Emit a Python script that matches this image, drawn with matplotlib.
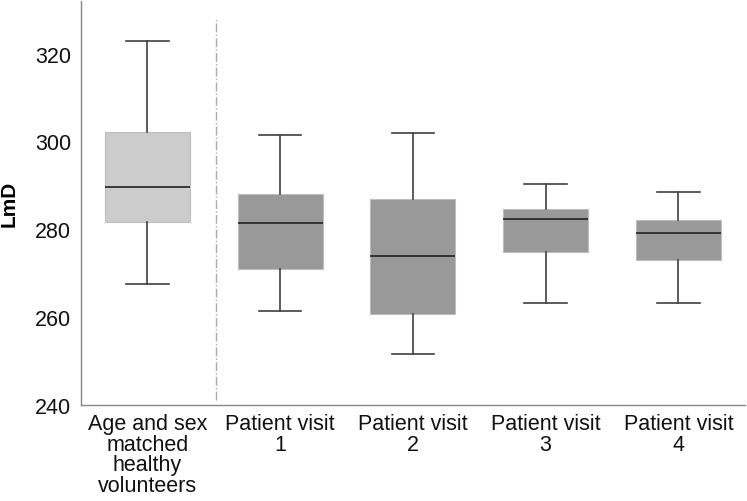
import matplotlib
matplotlib.use('Agg')
import matplotlib.pyplot as plt

# Daten
labels = ['Age and sex\nmatched\nhealthy\nvolunteers', 'Patient visit\n1',
          'Patient visit\n2', 'Patient visit\n3', 'Patient visit\n4']
whislo = [267.4, 261.3, 251.5, 263.2, 263.2]
q1 = [281.7, 270.9, 260.7, 274.8, 273.0]
med = [289.6, 281.5, 274.0, 282.4, 279.2]
q3 = [302.2, 288.0, 286.9, 284.6, 282.1]
whishi = [323.0, 301.5, 302.0, 290.4, 288.4]
box_colors = ['#cccccc', '#999999', '#999999', '#999999', '#999999']
yticks = [240, 260, 280, 300, 320]

plt.rcParams['font.family'] = ['Liberation Sans', 'DejaVu Sans']

stats = []
for i in range(len(labels)):
    stats.append({'whislo': whislo[i], 'q1': q1[i], 'med': med[i],
                  'q3': q3[i], 'whishi': whishi[i], 'fliers': []})

fig = plt.figure(figsize=(7.47, 5.02), dpi=100)
ax = fig.add_axes([0.1084, 0.1918, 0.8886, 0.8042])

bp = ax.bxp(stats, positions=range(len(labels)), widths=0.64,
            patch_artist=True, showfliers=False, capwidths=0.32,
            medianprops=dict(color='#222222', linewidth=1.2),
            whiskerprops=dict(color='#404040', linewidth=1.2),
            capprops=dict(color='#404040', linewidth=1.2),
            boxprops=dict(linewidth=0.8))
for patch, c in zip(bp['boxes'], box_colors):
    patch.set_facecolor(c)
    patch.set_edgecolor('#bdbdbd')

# Trennlinie zwischen Kontrollgruppe und Patienten
ax.plot([0.52, 0.52], [241, 328], color='#aaaaaa', linestyle='-.', linewidth=1)

ax.set_xlim(-0.5, 4.5)
ax.set_ylim(240, 332)
ax.set_yticks(yticks)
ax.set_xticks(range(len(labels)))
ax.set_xticklabels(labels, fontsize=15.5, linespacing=0.98)
ax.tick_params(axis='both', length=0, labelsize=15.5, labelcolor='#111111')
ax.tick_params(axis='y', pad=7)
ax.tick_params(axis='x', pad=6)
ax.set_ylabel('LmD', fontsize=15, fontweight='bold', labelpad=12)

for s in ['top', 'right']:
    ax.spines[s].set_visible(False)
for s in ['left', 'bottom']:
    ax.spines[s].set_color('#888888')
    ax.spines[s].set_linewidth(1)

fig.savefig('out.png', dpi=100)
